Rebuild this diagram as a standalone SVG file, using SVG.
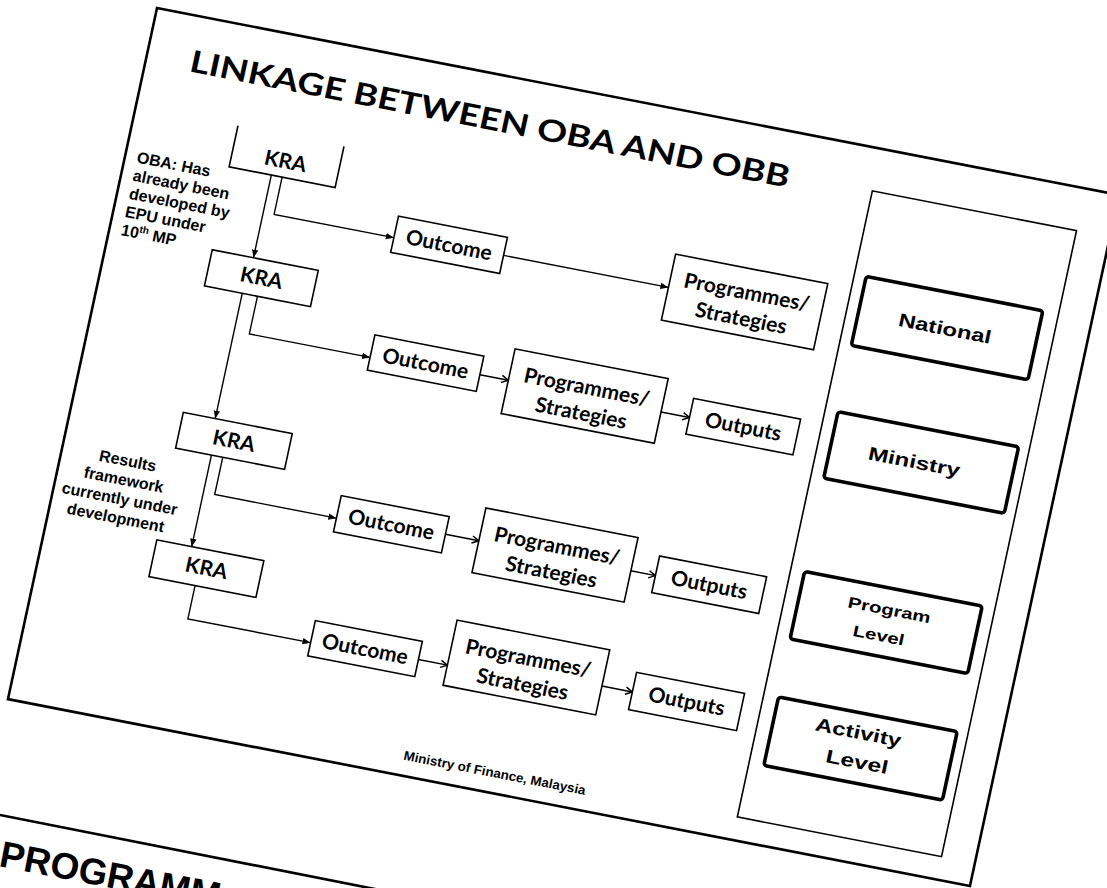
<svg xmlns="http://www.w3.org/2000/svg" width="1107" height="888" viewBox="0 0 1107 888">
<style>
.bx{fill:none;stroke:#000;stroke-width:1.6}
.lv{fill:none;stroke:#000;stroke-width:3.6}
.fr{fill:none;stroke:#000;stroke-width:2.6}
.c{fill:none;stroke:#000;stroke-width:1.4}
.t{font-family:Lato,"Open Sans",sans-serif;font-weight:700;font-size:21px;text-anchor:middle;fill:#000}
.a{font-family:"Liberation Sans",Arial,sans-serif;font-weight:700;fill:#000}
.m{text-anchor:middle}
</style>
<defs>
<marker id="f" viewBox="0 0 10 10" refX="10" refY="5" markerWidth="8" markerHeight="8" markerUnits="userSpaceOnUse" orient="auto"><path d="M0,1 L10,5 L0,9 z" fill="#000"/></marker>
<marker id="o" viewBox="0 0 10 10" refX="9.5" refY="5" markerWidth="9" markerHeight="9" markerUnits="userSpaceOnUse" orient="auto"><path d="M2,1 L9.5,5 L2,9" fill="none" stroke="#000" stroke-width="1.6"/></marker>
</defs>
<rect x="0" y="0" width="1107" height="888" fill="#fff"/>
<g id="slide" transform="matrix(0.9816 0.1908 -0.2111 0.9789 157 8)">
<rect class="fr" x="0" y="0" width="980" height="706"/>
<text id="title" x="44" y="56" font-family="Lato,'Open Sans',sans-serif" font-weight="700" font-size="30.5" textLength="610" lengthAdjust="spacingAndGlyphs">LINKAGE BETWEEN OBA AND OBB</text>
<g id="note-oba" class="a" font-size="16">
<text x="12" y="155.5">OBA: Has</text>
<text x="12" y="174">already been</text>
<text x="12" y="192.5">developed by</text>
<text x="12" y="211">EPU under</text>
<text x="12" y="229.5">10<tspan font-size="10" dy="-6">th</tspan><tspan dy="6"> MP</tspan></text>
</g>
<g id="note-results" class="a m" font-size="16">
<text x="67" y="455">Results</text>
<text x="67" y="474.3">framework</text>
<text x="67" y="493.6">currently under</text>
<text x="67" y="513">development</text>
</g>
<g id="connectors">
<path class="c" d="M147,142 V226.5" marker-end="url(#f)"/>
<path class="c" d="M143.5,263.5 V391.5" marker-end="url(#f)"/>
<path class="c" d="M147.5,428 V521.5" marker-end="url(#f)"/>
<path class="c" d="M158,142 V180 H280" marker-end="url(#f)"/>
<path class="c" d="M159,263.5 V302 H282" marker-end="url(#f)"/>
<path class="c" d="M159,428 V466 H283" marker-end="url(#f)"/>
<path class="c" d="M159,559 V593 H284" marker-end="url(#f)"/>
<path class="c" d="M391,176.5 H559" marker-end="url(#f)"/>
<path class="c" d="M393,298 H422" marker-end="url(#o)"/>
<path class="c" d="M578,300 H607" marker-end="url(#o)"/>
<path class="c" d="M393,461 H427" marker-end="url(#o)"/>
<path class="c" d="M582,461.5 H607" marker-end="url(#o)"/>
<path class="c" d="M393,589 H422.5" marker-end="url(#o)"/>
<path class="c" d="M578,580 H609" marker-end="url(#o)"/>
</g>
<g id="kra1"><path class="bx" d="M104,100 V142 H212 V100"/><text class="t" x="158" y="133">KRA</text></g>
<g id="kra2"><rect class="bx" x="105" y="226.5" width="108" height="37"/><text class="t" x="159" y="252">KRA</text></g>
<g id="kra3"><rect class="bx" x="111" y="391.5" width="111" height="36.5"/><text class="t" x="166.5" y="417">KRA</text></g>
<g id="kra4"><rect class="bx" x="112" y="521.5" width="109" height="37.5"/><text class="t" x="166.5" y="547">KRA</text></g>
<g id="outcome1"><rect class="bx" x="280" y="158" width="111" height="37"/><text class="t" x="335.5" y="184">Outcome</text></g>
<g id="outcome2"><rect class="bx" x="282" y="279" width="111" height="36"/><text class="t" x="337.5" y="304.5">Outcome</text></g>
<g id="outcome3"><rect class="bx" x="283" y="443" width="110" height="37"/><text class="t" x="338" y="469">Outcome</text></g>
<g id="outcome4"><rect class="bx" x="284" y="570.5" width="109" height="36"/><text class="t" x="338.5" y="596">Outcome</text></g>
<g id="prog1"><rect class="bx" x="559" y="142.5" width="155" height="67.5"/><text class="t" x="636.5" y="173.5">Programmes/</text><text class="t" x="636.5" y="200">Strategies</text></g>
<g id="prog2"><rect class="bx" x="422" y="266" width="156" height="66"/><text class="t" x="500" y="297">Programmes/</text><text class="t" x="500" y="323.5">Strategies</text></g>
<g id="prog3"><rect class="bx" x="427" y="427.5" width="155" height="66"/><text class="t" x="504.5" y="458.5">Programmes/</text><text class="t" x="504.5" y="485">Strategies</text></g>
<g id="prog4"><rect class="bx" x="422.5" y="543" width="155.5" height="66.5"/><text class="t" x="500" y="574">Programmes/</text><text class="t" x="500" y="600.5">Strategies</text></g>
<g id="outputs2"><rect class="bx" x="607" y="280.5" width="109" height="36.5"/><text class="t" x="661.5" y="306">Outputs</text></g>
<g id="outputs3"><rect class="bx" x="607" y="441.5" width="109" height="37.5"/><text class="t" x="661.5" y="467.5">Outputs</text></g>
<g id="outputs4"><rect class="bx" x="609" y="560" width="110" height="38"/><text class="t" x="664" y="586">Outputs</text></g>
<g id="levels-panel"><rect class="bx" x="738" y="43" width="208" height="639.5"/></g>
<g id="national"><rect class="lv" x="750" y="128" width="180" height="70.5" rx="3"/><text class="a m" x="838" y="170.5" font-size="18.5" textLength="94" lengthAdjust="spacingAndGlyphs">National</text></g>
<g id="ministry"><rect class="lv" x="751" y="266" width="184" height="68" rx="3"/><text class="a m" x="836" y="307" font-size="18.5" textLength="93" lengthAdjust="spacingAndGlyphs">Ministry</text></g>
<g id="program-level"><rect class="lv" x="752" y="429" width="181" height="69" rx="3"/><text class="a m" x="843" y="456" font-size="15.5" textLength="84" lengthAdjust="spacingAndGlyphs">Program</text><text class="a m" x="838" y="483" font-size="15.5" textLength="52" lengthAdjust="spacingAndGlyphs">Level</text></g>
<g id="activity-level"><rect class="lv" x="753" y="557" width="182" height="70" rx="3"/><text class="a m" x="838.5" y="583" font-size="18.5" textLength="87" lengthAdjust="spacingAndGlyphs">Activity</text><text class="a m" x="843.5" y="612" font-size="18.5" textLength="63" lengthAdjust="spacingAndGlyphs">Level</text></g>
<text id="footer" class="a" x="399" y="690" font-size="13" textLength="185" lengthAdjust="spacingAndGlyphs">Ministry of Finance, Malaysia</text>
</g>
<g id="next-slide">
<line x1="0" y1="815" x2="400" y2="894" stroke="#000" stroke-width="2.6"/>
<text class="a" transform="translate(-2,866) rotate(11)" font-size="37">PROGRAMM</text>
</g>
</svg>
